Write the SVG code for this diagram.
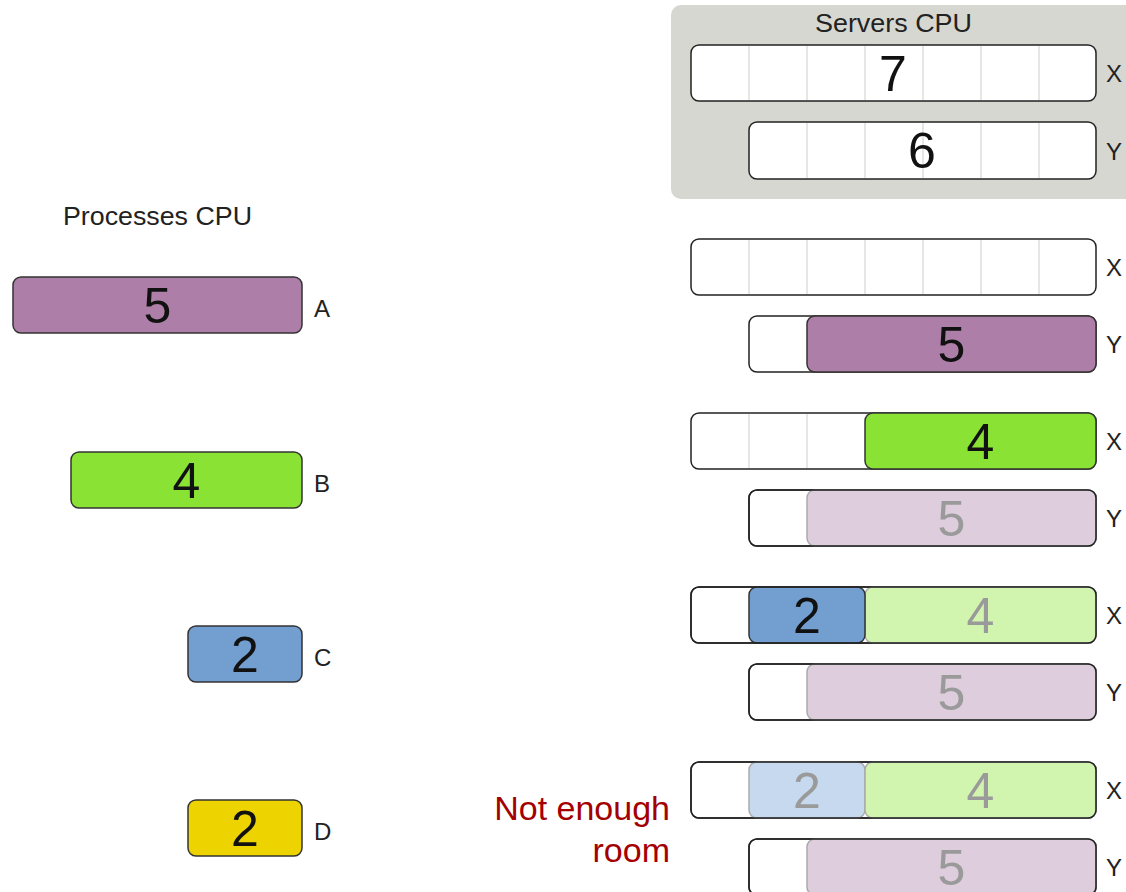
<svg xmlns="http://www.w3.org/2000/svg" width="1126" height="892" viewBox="0 0 1126 892">
  <style>
    .lbl { font-family: "Liberation Sans", Arial, sans-serif; font-size: 25px; fill: #222; }
    .tag { font-family: "Liberation Sans", Arial, sans-serif; font-size: 24px; fill: #222; }
    .num { font-family: "Liberation Sans", Arial, sans-serif; font-size: 50px; fill: #111; text-anchor: middle; }
    .num.dim { fill: #9a9a9a; }
    .slot { fill: #ffffff; stroke: #222; stroke-width: 1.5; }
    .frame { fill: none; stroke: #222; stroke-width: 1.5; }
    .grid { stroke: #d3d7cf; stroke-width: 1.2; }
    .plum { fill: #ad7fa8; stroke: #333; stroke-width: 1.5; }
    .plum.dim { fill: #decddc; stroke: #aaa; }
    .lime { fill: #8ae234; stroke: #333; stroke-width: 1.5; }
    .lime.dim { fill: #d1f5ae; stroke: #aaa; }
    .sky { fill: #729fcf; stroke: #333; stroke-width: 1.5; }
    .sky.dim { fill: #c6d9ee; stroke: #aaa; }
    .sun { fill: #edd400; stroke: #333; stroke-width: 1.5; }
    .warn { font-family: "Liberation Sans", Arial, sans-serif; font-size: 34px; fill: #a40000; text-anchor: end; }
  </style>

  <!-- processes on the left -->
  <text class="lbl" x="63" y="225" textLength="189" lengthAdjust="spacingAndGlyphs">Processes CPU</text>

  <g id="process-a">
    <rect class="plum" x="13" y="277" width="289" height="56" rx="8"/>
    <text class="num" x="157.5" y="323">5</text>
    <text class="tag" x="314" y="317">A</text>
  </g>
  <g id="process-b">
    <rect class="lime" x="71" y="452" width="231" height="56" rx="8"/>
    <text class="num" x="186.5" y="498">4</text>
    <text class="tag" x="314" y="492">B</text>
  </g>
  <g id="process-c">
    <rect class="sky" x="188" y="626" width="114" height="56" rx="8"/>
    <text class="num" x="245" y="672">2</text>
    <text class="tag" x="314" y="666">C</text>
  </g>
  <g id="process-d">
    <rect class="sun" x="188" y="800" width="114" height="56" rx="8"/>
    <text class="num" x="245" y="846">2</text>
    <text class="tag" x="314" y="840">D</text>
  </g>

  <!-- server capacities -->
  <g id="servers">
    <rect x="671" y="5" width="470" height="194" rx="10" fill="#d6d7d0"/>
    <text class="lbl" x="815" y="32" font-size="26" textLength="157" lengthAdjust="spacingAndGlyphs">Servers CPU</text>
    <g id="server-x">
      <rect class="slot" x="691" y="45" width="405" height="56" rx="8"/>
      <path class="grid" d="M749 46V100M807 46V100M865 46V100M923 46V100M981 46V100M1039 46V100"/>
      <text class="num" x="893" y="91">7</text>
      <text class="tag" x="1106" y="82">X</text>
    </g>
    <g id="server-y">
      <rect class="slot" x="749" y="122" width="347" height="57" rx="8"/>
      <path class="grid" d="M807 123V178M865 123V178M923 123V178M981 123V178M1039 123V178"/>
      <text class="num" x="922" y="168">6</text>
      <text class="tag" x="1106" y="160">Y</text>
    </g>
  </g>

  <!-- step 1: A placed on Y -->
  <g id="step1-x">
    <rect class="slot" x="691" y="239" width="405" height="56" rx="8"/>
    <path class="grid" d="M749 240V294M807 240V294M865 240V294M923 240V294M981 240V294M1039 240V294"/>
    <text class="tag" x="1106" y="276">X</text>
  </g>
  <g id="step1-y">
    <rect class="slot" x="749" y="316" width="347" height="56" rx="8"/>
    <rect class="plum" x="807" y="316" width="289" height="56" rx="8"/>
    <text class="num" x="951.5" y="362">5</text>
    <text class="tag" x="1106" y="353">Y</text>
  </g>

  <!-- step 2: B placed on X -->
  <g id="step2-x">
    <rect class="slot" x="691" y="413" width="405" height="56" rx="8"/>
    <path class="grid" d="M749 414V468M807 414V468"/>
    <rect class="lime" x="865" y="413" width="231" height="56" rx="8"/>
    <text class="num" x="980.5" y="459">4</text>
    <text class="tag" x="1106" y="450">X</text>
  </g>
  <g id="step2-y">
    <rect class="slot" x="749" y="490" width="347" height="56" rx="8"/>
    <rect class="plum dim" x="807" y="490" width="289" height="56" rx="8"/>
    <rect class="frame" x="749" y="490" width="347" height="56" rx="8"/>
    <text class="num dim" x="951.5" y="536">5</text>
    <text class="tag" x="1106" y="527">Y</text>
  </g>

  <!-- step 3: C placed on X -->
  <g id="step3-x">
    <rect class="slot" x="691" y="587" width="405" height="56" rx="8"/>
    <rect class="lime dim" x="865" y="587" width="231" height="56" rx="8"/>
    <rect class="sky" x="749" y="587" width="116" height="56" rx="8"/>
    <rect class="frame" x="691" y="587" width="405" height="56" rx="8"/>
    <text class="num" x="807" y="633">2</text>
    <text class="num dim" x="980.5" y="633">4</text>
    <text class="tag" x="1106" y="624">X</text>
  </g>
  <g id="step3-y">
    <rect class="slot" x="749" y="664" width="347" height="56" rx="8"/>
    <rect class="plum dim" x="807" y="664" width="289" height="56" rx="8"/>
    <rect class="frame" x="749" y="664" width="347" height="56" rx="8"/>
    <text class="num dim" x="951.5" y="710">5</text>
    <text class="tag" x="1106" y="701">Y</text>
  </g>

  <!-- step 4: D does not fit -->
  <g id="step4-x">
    <rect class="slot" x="691" y="762" width="405" height="56" rx="8"/>
    <rect class="sky dim" x="749" y="762" width="116" height="56" rx="8"/>
    <rect class="lime dim" x="865" y="762" width="231" height="56" rx="8"/>
    <rect class="frame" x="691" y="762" width="405" height="56" rx="8"/>
    <text class="num dim" x="807" y="808">2</text>
    <text class="num dim" x="980.5" y="808">4</text>
    <text class="tag" x="1106" y="799">X</text>
  </g>
  <g id="step4-y">
    <rect class="slot" x="749" y="839" width="347" height="56" rx="8"/>
    <rect class="plum dim" x="807" y="839" width="289" height="56" rx="8"/>
    <rect class="frame" x="749" y="839" width="347" height="56" rx="8"/>
    <text class="num dim" x="951.5" y="885">5</text>
    <text class="tag" x="1106" y="876">Y</text>
  </g>
  <g id="no-room">
    <text class="warn" x="670" y="820">Not enough</text>
    <text class="warn" x="670" y="862">room</text>
  </g>
</svg>
